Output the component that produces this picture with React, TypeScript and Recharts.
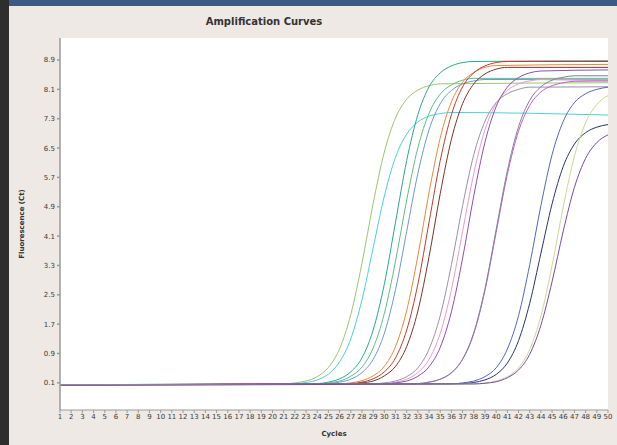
import React from 'react';
import { LineChart, Line, XAxis, YAxis, CartesianGrid } from 'recharts';

type Pt = [number, number];

const cycleTicks = [
  1, 2, 3, 4, 5, 6, 7, 8, 9, 10, 11, 12, 13, 14, 15, 16, 17, 18, 19, 20, 21, 22, 23, 24, 25,
  26, 27, 28, 29, 30, 31, 32, 33, 34, 35, 36, 37, 38, 39, 40, 41, 42, 43, 44, 45, 46, 47, 48, 49, 50,
];
const fluorTicks = [0.1, 0.9, 1.7, 2.5, 3.3, 4.1, 4.9, 5.7, 6.5, 7.3, 8.1, 8.9];

// [cycle, fluorescence]
const wellA: Pt[] = [[1, 0.04], [21, 0.07], [22, 0.1], [23, 0.15], [24, 0.27], [25, 0.52], [26, 1.03], [27, 1.96], [28, 3.36], [29, 4.99], [30, 6.39], [31, 7.32], [32, 7.83], [33, 8.08], [34, 8.2], [35, 8.25], [50, 8.28]];
const wellB: Pt[] = [[1, 0.05], [22, 0.08], [23, 0.11], [24, 0.18], [25, 0.34], [26, 0.67], [27, 1.3], [28, 2.36], [29, 3.78], [30, 5.19], [31, 6.25], [32, 6.88], [33, 7.21], [34, 7.37], [35, 7.44], [36, 7.47], [50, 7.4]];
const wellC: Pt[] = [[1, 0.05], [24, 0.08], [25, 0.12], [26, 0.21], [27, 0.4], [28, 0.78], [29, 1.54], [30, 2.79], [31, 4.48], [32, 6.16], [33, 7.41], [34, 8.17], [35, 8.55], [36, 8.74], [37, 8.83], [38, 8.86], [50, 8.88]];
const wellD: Pt[] = [[1, 0.05], [24, 0.07], [25, 0.1], [26, 0.15], [27, 0.28], [28, 0.53], [29, 1.05], [30, 1.99], [31, 3.42], [32, 5.08], [33, 6.51], [34, 7.45], [35, 7.97], [36, 8.22], [37, 8.35], [38, 8.4], [50, 8.4]];
const wellE: Pt[] = [[1, 0.04], [25, 0.08], [26, 0.12], [27, 0.2], [28, 0.38], [29, 0.74], [30, 1.45], [31, 2.64], [32, 4.23], [33, 5.81], [34, 7.0], [35, 7.71], [36, 8.07], [37, 8.25], [38, 8.33], [39, 8.37], [50, 8.36]];
const wellF: Pt[] = [[1, 0.05], [26, 0.07], [27, 0.1], [28, 0.16], [29, 0.29], [30, 0.55], [31, 1.09], [32, 2.07], [33, 3.56], [34, 5.29], [35, 6.78], [36, 7.76], [37, 8.3], [38, 8.56], [39, 8.7], [40, 8.75], [50, 8.78]];
const wellG: Pt[] = [[1, 0.05], [27, 0.08], [28, 0.12], [29, 0.21], [30, 0.4], [31, 0.78], [32, 1.54], [33, 2.79], [34, 4.48], [35, 6.16], [36, 7.41], [37, 8.17], [38, 8.55], [39, 8.74], [40, 8.83], [41, 8.86], [50, 8.86]];
const wellH: Pt[] = [[1, 0.05], [27, 0.07], [28, 0.1], [29, 0.15], [30, 0.29], [31, 0.55], [32, 1.09], [33, 2.06], [34, 3.54], [35, 5.26], [36, 6.74], [37, 7.71], [38, 8.25], [39, 8.52], [40, 8.65], [41, 8.7], [50, 8.7]];
const wellI: Pt[] = [[1, 0.04], [29, 0.07], [30, 0.1], [31, 0.15], [32, 0.27], [33, 0.51], [34, 1.02], [35, 1.93], [36, 3.32], [37, 4.93], [38, 6.32], [39, 7.23], [40, 7.74], [41, 7.98], [42, 8.1], [43, 8.16], [50, 8.17]];
const wellJ: Pt[] = [[1, 0.05], [30, 0.08], [31, 0.12], [32, 0.2], [33, 0.38], [34, 0.74], [35, 1.45], [36, 2.64], [37, 4.23], [38, 5.81], [39, 7.0], [40, 7.71], [41, 8.07], [42, 8.25], [43, 8.33], [44, 8.37], [50, 8.33]];
const wellK: Pt[] = [[1, 0.05], [30, 0.07], [31, 0.1], [32, 0.15], [33, 0.28], [34, 0.54], [35, 1.07], [36, 2.04], [37, 3.5], [38, 5.2], [39, 6.66], [40, 7.63], [41, 8.16], [42, 8.42], [43, 8.55], [44, 8.6], [50, 8.63]];
const wellL: Pt[] = [[1, 0.05], [33, 0.08], [34, 0.12], [35, 0.2], [36, 0.37], [37, 0.74], [38, 1.44], [39, 2.62], [40, 4.2], [41, 5.78], [42, 6.96], [43, 7.66], [44, 8.03], [45, 8.2], [46, 8.28], [47, 8.32], [50, 8.33]];
const wellM: Pt[] = [[1, 0.04], [33, 0.08], [34, 0.12], [35, 0.2], [36, 0.38], [37, 0.75], [38, 1.47], [39, 2.67], [40, 4.28], [41, 5.88], [42, 7.08], [43, 7.8], [44, 8.17], [45, 8.35], [46, 8.43], [47, 8.47], [50, 8.47]];
const wellN: Pt[] = [[1, 0.05], [36, 0.07], [37, 0.1], [38, 0.15], [39, 0.27], [40, 0.51], [41, 1.02], [42, 1.93], [43, 3.32], [44, 4.93], [45, 6.32], [46, 7.23], [47, 7.74], [48, 7.98], [49, 8.1], [50, 8.16]];
const wellO: Pt[] = [[1, 0.05], [37, 0.08], [38, 0.11], [39, 0.18], [40, 0.33], [41, 0.64], [42, 1.25], [43, 2.27], [44, 3.63], [45, 4.98], [46, 6.0], [47, 6.61], [48, 6.92], [49, 7.07], [50, 7.14]];
const wellP: Pt[] = [[1, 0.05], [38, 0.07], [39, 0.09], [40, 0.15], [41, 0.27], [42, 0.51], [43, 1.01], [44, 1.92], [45, 3.3], [46, 4.9], [47, 6.28], [48, 7.19], [49, 7.69], [50, 7.93]];
const wellQ: Pt[] = [[1, 0.04], [38, 0.07], [39, 0.09], [40, 0.13], [41, 0.24], [42, 0.45], [43, 0.88], [44, 1.67], [45, 2.86], [46, 4.24], [47, 5.43], [48, 6.22], [49, 6.65], [50, 6.86]];

const wells = [wellA, wellB, wellC, wellD, wellE, wellF, wellG, wellH, wellI, wellJ, wellK, wellL, wellM, wellN, wellO, wellP, wellQ];
const wellColors = [
  '#9fc46f', '#48d4d8', '#2aa88a', '#5cc080', '#6a9ad0', '#e8893a', '#c23a2a', '#7a3426',
  '#9a92a8', '#e89ccc', '#8e4fb0', '#c65cc6', '#7c8494', '#4f68c0', '#273470', '#c8dc90', '#7a4aa2',
];

const toRows = (pts: Pt[]) => pts.map(([cycle, fl]) => ({ cycle, fl }));

const tickStyle = { fontSize: 7, fill: '#3a3a3a' };

export default function App() {
  return (
    <div
      style={{
        position: 'absolute', left: 0, top: 0, width: 617, height: 445, overflow: 'hidden',
        background: '#eee9e4', fontFamily: '"DejaVu Sans", sans-serif',
      }}
    >
      <div style={{ position: 'absolute', left: 0, top: 0, width: 617, height: 6, background: '#3b5b84' }} />
      <div style={{ position: 'absolute', left: 0, top: 0, width: 9, height: 445, background: '#2e2e2e' }} />
      <div
        style={{
          position: 'absolute', left: 0, top: 16, width: 528, textAlign: 'center',
          fontSize: 10, fontWeight: 'bold', color: '#333', lineHeight: '12px',
        }}
      >
        Amplification Curves
      </div>
      <div
        style={{
          position: 'absolute', left: 22, top: 224, transform: 'translate(-50%, -50%) rotate(-90deg)',
          fontSize: 7, fontWeight: 'bold', color: '#333', whiteSpace: 'nowrap',
        }}
      >
        Fluorescence (Ct)
      </div>
      <div
        style={{
          position: 'absolute', left: 334, top: 434, transform: 'translate(-50%, -50%)',
          fontSize: 7, fontWeight: 'bold', color: '#333',
        }}
      >
        Cycles
      </div>
      <div style={{ position: 'absolute', left: 0, top: 0 }}>
        <LineChart width={617} height={445} margin={{ top: 38, right: 9, bottom: 10, left: 0 }}>
          <CartesianGrid fill="#ffffff" horizontal={false} vertical={false} />
          <XAxis
            dataKey="cycle"
            type="number"
            domain={[1, 50]}
            ticks={cycleTicks}
            interval={0}
            allowDataOverflow
            height={25}
            tick={tickStyle}
            tickSize={3}
            tickMargin={1}
            stroke="#9a9a9a"
          />
          <XAxis
            xAxisId="top"
            orientation="top"
            type="number"
            domain={[1, 50]}
            height={0}
            tick={false}
            tickLine={false}
            stroke="#a8a8a8"
          />
          <YAxis
            type="number"
            domain={[-0.64, 9.5]}
            ticks={fluorTicks}
            interval={0}
            allowDataOverflow
            width={60}
            tick={tickStyle}
            tickSize={3}
            tickMargin={2}
            tickFormatter={(v: number) => v.toFixed(1)}
            stroke="#9a9a9a"
            strokeWidth={1.5}
          />
          <YAxis
            yAxisId="right"
            orientation="right"
            type="number"
            domain={[-0.64, 9.5]}
            width={0}
            tick={false}
            tickLine={false}
            stroke="#a8a8a8"
            strokeWidth={1.5}
          />
          {wells.map((pts, i) => (
            <Line
              key={i}
              data={toRows(pts)}
              dataKey="fl"
              type="monotone"
              stroke={wellColors[i]}
              strokeWidth={1}
              dot={false}
              isAnimationActive={false}
            />
          ))}
        </LineChart>
      </div>
    </div>
  );
}
